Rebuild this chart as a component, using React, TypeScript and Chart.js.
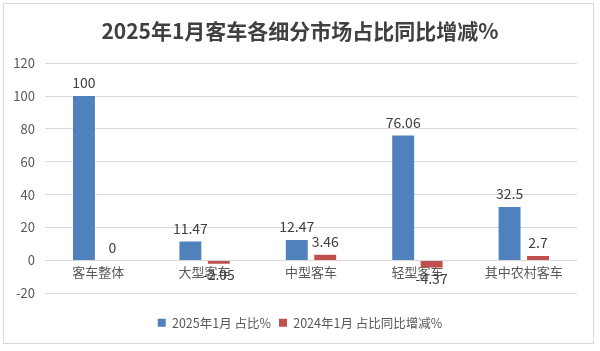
import React, { useEffect, useRef } from "react";
import { Chart, registerables } from "chart.js";

Chart.register(...registerables);

const categories = ["客车整体", "大型客车", "中型客车", "轻型客车", "其中农村客车"];
const share2025 = [100, 11.47, 12.47, 76.06, 32.5];
const yoyChange = [0, -2.05, 3.46, -4.37, 2.7];
const seriesNames = ["2025年1月 占比%", "2024年1月 占比同比增减%"];
const titleText = "2025年1月客车各细分市场占比同比增减%";

const FONT = "'Noto Sans CJK SC', 'Noto Sans', sans-serif";

const framePlugin = {
  id: "frame",
  beforeDraw(chart: any) {
    const ctx = chart.ctx;
    ctx.save();
    ctx.fillStyle = "#ffffff";
    ctx.fillRect(0, 0, chart.width, chart.height);
    ctx.strokeStyle = "#d9d9d9";
    ctx.lineWidth = 1;
    ctx.strokeRect(3.5, 3.5, 590, 340);
    ctx.restore();
  },
};

const labelPlugin = {
  id: "barLabels",
  afterDatasetsDraw(chart: any) {
    const ctx = chart.ctx;
    ctx.save();
    ctx.font = `14px ${FONT}`;
    ctx.fillStyle = "#404040";
    ctx.textAlign = "center";
    chart.data.datasets.forEach((ds: any, i: number) => {
      const meta = chart.getDatasetMeta(i);
      meta.data.forEach((el: any, j: number) => {
        const v = ds.data[j];
        const txt = String(v);
        if (v >= 0) {
          ctx.textBaseline = "bottom";
          ctx.fillText(txt, el.x, el.y - 6);
        } else {
          ctx.textBaseline = "top";
          ctx.fillText(txt, el.x, el.y + 4);
        }
      });
    });
    ctx.restore();
  },
};

export default function App() {
  const ref = useRef<HTMLCanvasElement>(null);
  useEffect(() => {
    document.body.style.margin = "0";
    const chart = new Chart(ref.current!, {
      type: "bar",
      data: {
        labels: categories,
        datasets: [
          { label: seriesNames[0], data: share2025, backgroundColor: "#4f81bd", barPercentage: 0.77, categoryPercentage: 0.535 },
          { label: seriesNames[1], data: yoyChange, backgroundColor: "#c0504d", barPercentage: 0.77, categoryPercentage: 0.535 },
        ],
      },
      options: {
        animation: false,
        responsive: false,
        maintainAspectRatio: false,
        layout: { padding: { left: 8, right: 8, top: 8, bottom: 12 } },
        plugins: {
          title: {
            display: true,
            text: titleText,
            color: "#404040",
            font: { family: FONT, size: 21, weight: "bold" },
            padding: { top: 10, bottom: 20 },
          },
          legend: {
            position: "bottom",
            title: { display: true, text: "", font: { size: 1 }, padding: 7 },
            labels: {
              color: "#595959",
              font: { family: FONT, size: 12.5 },
              boxWidth: 8,
              boxHeight: 8,
              padding: 8,
            },
          },
          tooltip: { enabled: false },
        },
        scales: {
          x: {
            position: { y: 0 } as any,
            grid: { display: false, drawTicks: false },
            border: { display: false },
            ticks: { color: "#595959", font: { family: FONT, size: 13 }, padding: 4 },
          },
          y: {
            min: -20,
            max: 120,
            afterFit: (s: any) => { s.width = 37; },
            ticks: { stepSize: 20, color: "#595959", font: { family: FONT, size: 13 }, padding: 10 },
            grid: { color: "#d9d9d9", drawTicks: false },
            border: { display: false },
          },
          yRight: {
            position: "right",
            display: true,
            afterFit: (s: any) => { s.width = 15; },
            ticks: { display: false },
            grid: { display: false, drawTicks: false },
            border: { display: false },
          },
        },
      },
      plugins: [framePlugin, labelPlugin],
    });
    return () => chart.destroy();
  }, []);
  return (
    <div style={{ position: "absolute", left: 0, top: 0, width: 600, height: 351 }}>
      <canvas ref={ref} width={600} height={351} />
    </div>
  );
}
